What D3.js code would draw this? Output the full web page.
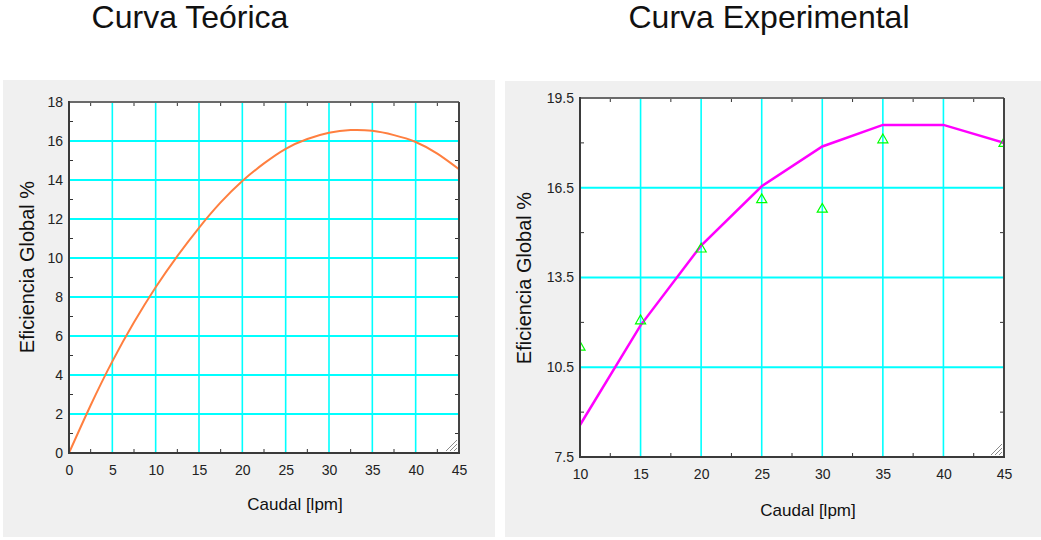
<!DOCTYPE html>
<html>
<head>
<meta charset="utf-8">
<script src="https://cdn.jsdelivr.net/npm/d3@7"></script>
<style>
  html, body { margin: 0; padding: 0; background: #ffffff; }
  svg { display: block; font-family: "Liberation Sans", Arial, sans-serif; }
</style>
</head>
<body>
<svg id="chart" width="1041" height="540"></svg>
<script>
// Curva teórica: eficiencia global frente a caudal
const caudalTeorico = [0, 2.5, 5, 7.5, 10, 12.5, 15, 17.5, 20, 22.5, 25, 27.5, 30, 32.5, 35, 37.5, 40, 42.5, 45];
const eficienciaTeorica = [0, 2.45, 4.7, 6.7, 8.5, 10.1, 11.55, 12.85, 13.95, 14.85, 15.6, 16.1, 16.42, 16.56, 16.52, 16.3, 15.95, 15.35, 14.55];

// Curva experimental: ajuste y puntos medidos
const caudalAjuste = [10, 15, 20, 25, 30, 35, 40, 45];
const eficienciaAjuste = [8.57, 11.9, 14.57, 16.55, 17.88, 18.6, 18.6, 18.0];
const caudalMedido = [10, 15, 20, 25, 30, 35, 45];
const eficienciaMedida = [11.17, 12.05, 14.45, 16.1, 15.78, 18.1, 17.98];

// Ticks
const ticksXTeo = [0, 5, 10, 15, 20, 25, 30, 35, 40, 45];
const ticksYTeo = [0, 2, 4, 6, 8, 10, 12, 14, 16, 18];
const ticksXExp = [10, 15, 20, 25, 30, 35, 40, 45];
const ticksYExp = ["7.5", "10.5", "13.5", "16.5", "19.5"];

const svg = d3.select("#chart");

// Fondos grises de cada panel
svg.append("rect").attr("x", 3).attr("y", 80).attr("width", 492).attr("height", 457).attr("fill", "#f0f0f0");
svg.append("rect").attr("x", 505).attr("y", 81).attr("width", 536).attr("height", 456).attr("fill", "#f0f0f0");

// Títulos
svg.append("text").attr("x", 190).attr("y", 28).attr("text-anchor", "middle")
  .attr("font-size", 32).attr("fill", "#111").text("Curva Teórica");
svg.append("text").attr("x", 769).attr("y", 28).attr("text-anchor", "middle")
  .attr("font-size", 32).attr("fill", "#111").text("Curva Experimental");

function panel(opt) {
  const g = svg.append("g");
  const x = d3.scaleLinear().domain(opt.xDomain).range([opt.left, opt.right]);
  const y = d3.scaleLinear().domain(opt.yDomain).range([opt.bottom, opt.top]);

  g.append("rect").attr("x", opt.left).attr("y", opt.top)
    .attr("width", opt.right - opt.left).attr("height", opt.bottom - opt.top).attr("fill", "#ffffff");

  const clipId = opt.id + "-clip";
  g.append("clipPath").attr("id", clipId).append("rect")
    .attr("x", opt.left).attr("y", opt.top)
    .attr("width", opt.right - opt.left).attr("height", opt.bottom - opt.top);

  // Rejilla cian
  const grid = g.append("g").attr("stroke", "#00ffff");
  grid.selectAll("line.v").data(opt.xTicks.filter(t => t > opt.xDomain[0] && t < opt.xDomain[1]))
    .join("line").attr("class", "v")
    .attr("x1", d => x(d)).attr("x2", d => x(d)).attr("y1", opt.top).attr("y2", opt.bottom)
    .attr("stroke-width", 1.6);
  grid.selectAll("line.h").data(opt.yTicks.map(Number).filter(t => t > opt.yDomain[0] && t < opt.yDomain[1]))
    .join("line").attr("class", "h")
    .attr("y1", d => y(d)).attr("y2", d => y(d)).attr("x1", opt.left).attr("x2", opt.right)
    .attr("stroke-width", 1.8);

  // Marcas menores hacia adentro en los cuatro bordes
  const minX = d3.range(opt.xDomain[0] + opt.xStep / 2, opt.xDomain[1], opt.xStep);
  const minY = d3.range(opt.yDomain[0] + opt.yStep / 2, opt.yDomain[1], opt.yStep);
  const ticks = g.append("g").attr("stroke", "#333").attr("stroke-width", 1);
  ticks.selectAll("line.xb").data(minX).join("line").attr("class", "xb")
    .attr("x1", d => x(d)).attr("x2", d => x(d)).attr("y1", opt.bottom).attr("y2", opt.bottom - 4);
  ticks.selectAll("line.xt").data(minX).join("line").attr("class", "xt")
    .attr("x1", d => x(d)).attr("x2", d => x(d)).attr("y1", opt.top).attr("y2", opt.top + 4);
  ticks.selectAll("line.yl").data(minY).join("line").attr("class", "yl")
    .attr("y1", d => y(d)).attr("y2", d => y(d)).attr("x1", opt.left).attr("x2", opt.left + 4);
  ticks.selectAll("line.yr").data(minY).join("line").attr("class", "yr")
    .attr("y1", d => y(d)).attr("y2", d => y(d)).attr("x1", opt.right).attr("x2", opt.right - 4);

  // Series
  const plot = g.append("g").attr("clip-path", `url(#${clipId})`);
  opt.draw(plot, x, y);

  // Agarre de redimensionado
  const grip = g.append("g").attr("stroke", "#8a8a8a").attr("stroke-width", 1);
  [3, 7, 11].forEach(k => {
    grip.append("line").attr("x1", opt.right - 2).attr("y1", opt.bottom - 2 - k)
      .attr("x2", opt.right - 2 - k).attr("y2", opt.bottom - 2);
  });

  // Marco
  g.append("line").attr("x1", opt.left).attr("x2", opt.right).attr("y1", opt.top).attr("y2", opt.top)
    .attr("stroke", "#6a6a6a").attr("stroke-width", 2);
  g.append("line").attr("x1", opt.right).attr("x2", opt.right).attr("y1", opt.top).attr("y2", opt.bottom)
    .attr("stroke", "#444").attr("stroke-width", 2);
  g.append("line").attr("x1", opt.left).attr("x2", opt.left).attr("y1", opt.top - 1).attr("y2", opt.bottom + 1)
    .attr("stroke", "#3a3a3a").attr("stroke-width", 2);
  g.append("line").attr("x1", opt.left).attr("x2", opt.right + 1).attr("y1", opt.bottom).attr("y2", opt.bottom)
    .attr("stroke", "#3a3a3a").attr("stroke-width", 2);

  // Etiquetas de ejes
  const xAxis = d3.axisBottom(x).tickValues(opt.xTicks).tickSize(0).tickPadding(0).tickFormat(d3.format("d"));
  const xg = g.append("g").attr("transform", `translate(0,${opt.bottom + 12})`).call(xAxis);
  xg.select(".domain").remove();
  xg.selectAll("text").attr("font-size", 14).attr("fill", "#222").attr("font-family", "Liberation Sans, Arial, sans-serif");

  const yAxis = d3.axisLeft(y).tickValues(opt.yTicks.map(Number)).tickSize(0).tickPadding(0)
    .tickFormat((d, i) => opt.yTicks[i]);
  const yg = g.append("g").attr("transform", `translate(${opt.left - 6},0)`).call(yAxis);
  yg.select(".domain").remove();
  yg.selectAll("text").attr("font-size", 14).attr("fill", "#222").attr("font-family", "Liberation Sans, Arial, sans-serif");

  g.append("text").attr("x", opt.xLabelX).attr("y", opt.xLabelY).attr("text-anchor", "middle")
    .attr("font-size", 17).attr("fill", "#111").text("Caudal [lpm]");
  g.append("text").attr("transform", `translate(${opt.yLabelX},${opt.yLabelY}) rotate(-90)`)
    .attr("text-anchor", "middle").attr("font-size", 20).attr("fill", "#111").text("Eficiencia Global %");
}

panel({
  id: "teo", left: 69, right: 459, top: 102, bottom: 453,
  xDomain: [0, 45], yDomain: [0, 18], xStep: 5, yStep: 2,
  xTicks: ticksXTeo, yTicks: ticksYTeo,
  xLabelX: 295, xLabelY: 510, yLabelX: 34, yLabelY: 267,
  draw: (p, x, y) => {
    const line = d3.line().x((d, i) => x(caudalTeorico[i])).y(d => y(d)).curve(d3.curveNatural);
    p.append("path").datum(eficienciaTeorica).attr("d", line)
      .attr("fill", "none").attr("stroke", "#ff7f3f").attr("stroke-width", 2);
  }
});

panel({
  id: "exp", left: 580, right: 1004, top: 98, bottom: 457,
  xDomain: [10, 45], yDomain: [7.5, 19.5], xStep: 5, yStep: 3,
  xTicks: ticksXExp, yTicks: ticksYExp,
  xLabelX: 808, xLabelY: 516, yLabelX: 531, yLabelY: 278,
  draw: (p, x, y) => {
    const line = d3.line().x((d, i) => x(caudalAjuste[i])).y(d => y(d));
    p.append("path").datum(eficienciaAjuste).attr("d", line)
      .attr("fill", "none").attr("stroke", "#ff00ff").attr("stroke-width", 2.5);
    const tri = d3.symbol().type(d3.symbolTriangle).size(44);
    p.selectAll("path.m").data(eficienciaMedida).join("path").attr("class", "m")
      .attr("d", tri)
      .attr("transform", (d, i) => `translate(${x(caudalMedido[i])},${y(d)})`)
      .attr("fill", "none").attr("stroke", "#00ff00").attr("stroke-width", 1.2);
  }
});
</script>
</body>
</html>
